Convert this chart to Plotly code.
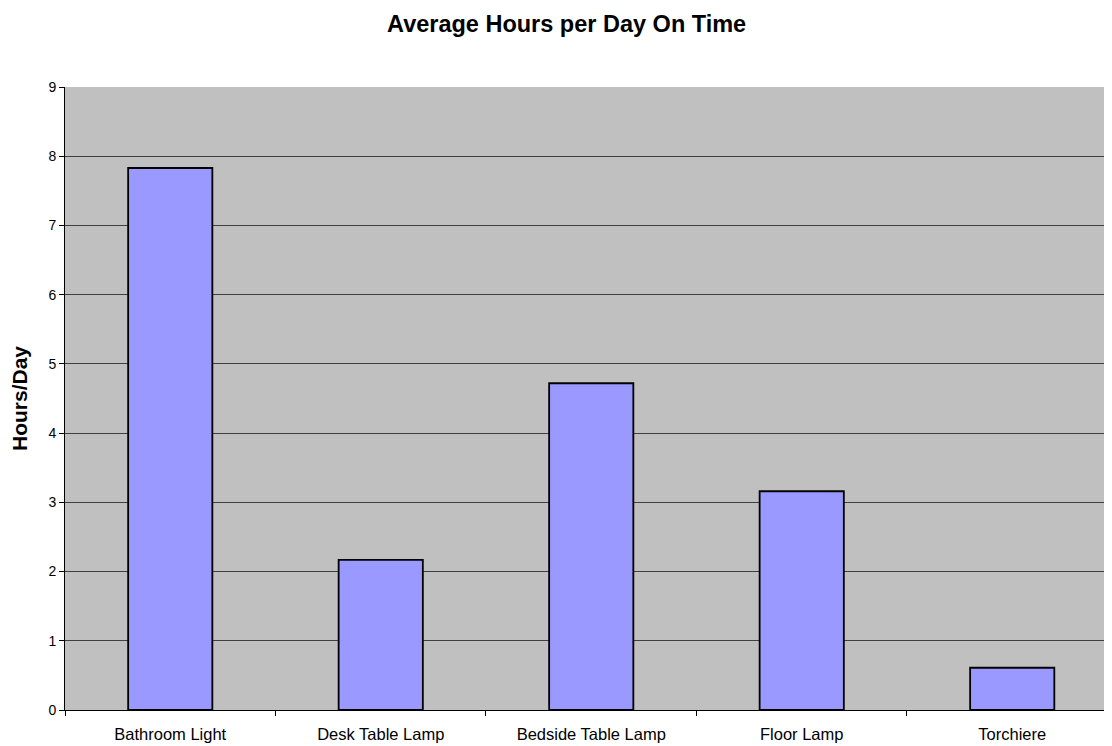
import plotly.graph_objects as go

categories = ["Bathroom Light", "Desk Table Lamp", "Bedside Table Lamp", "Floor Lamp", "Torchiere"]
hours = [7.83, 2.17, 4.72, 3.16, 0.61]

fig = go.Figure(go.Bar(
    x=categories, y=hours, width=0.4,
    marker=dict(color="#9999FF", line=dict(color="black", width=1.8)),
))

fig.update_layout(
    width=1104, height=738,
    margin=dict(l=57, r=0, t=79, b=36),
    paper_bgcolor="white", plot_bgcolor="#C0C0C0",
    font=dict(family="Liberation Sans, Arial", color="black", size=14),
    title=dict(text="<b>Average Hours per Day On Time</b>", x=0.506, xanchor="center",
               y=0.978, yanchor="middle", font=dict(size=23.5)),
    showlegend=False,
)
fig.update_yaxes(range=[0, 9], dtick=1, showgrid=True, gridcolor="#404040", gridwidth=1,
                 showline=True, linecolor="black", linewidth=1, ticks="outside", ticklen=5,
                 tickcolor="black", zeroline=False, tickfont=dict(size=14),
                 title=dict(text="<b>Hours/Day</b>", font=dict(size=21), standoff=16))
fig.update_xaxes(range=[-0.5, 4.474], showline=True, linecolor="black", linewidth=1,
                 ticks="outside", tickson="boundaries", ticklen=5, tickcolor="black",
                 showgrid=False, tickfont=dict(size=16.5), ticklabelstandoff=9)

fig.write_html("out.html")
